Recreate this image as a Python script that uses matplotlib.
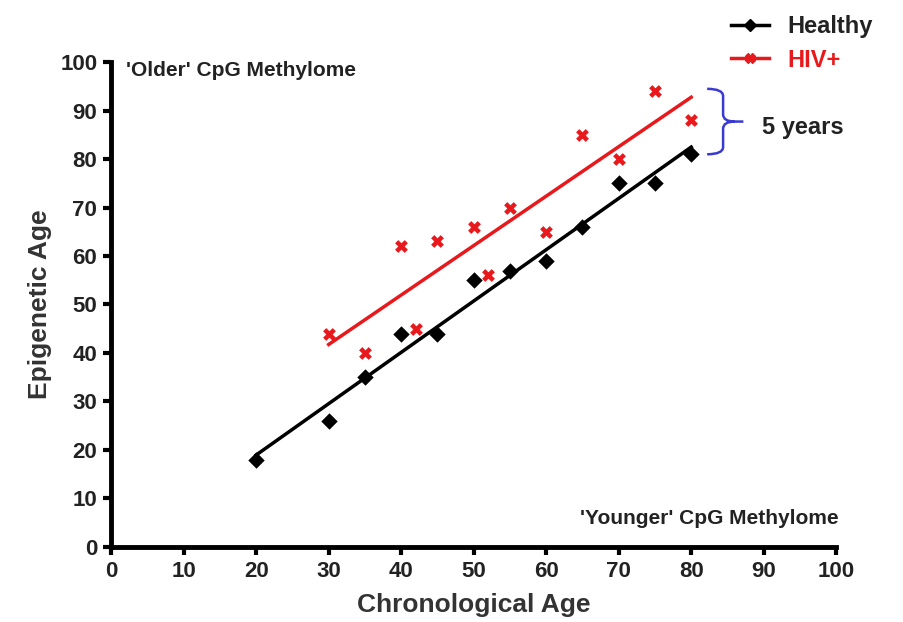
import numpy as np
import matplotlib
matplotlib.use("Agg")
import matplotlib.pyplot as plt
from matplotlib.path import Path
from matplotlib.patches import PathPatch
from matplotlib.lines import Line2D

plt.rcParams['font.family'] = ['Liberation Sans', 'DejaVu Sans']
plt.rcParams['font.weight'] = 'bold'

# data
healthy_x = [20, 30, 35, 40, 45, 50, 55, 60, 65, 70, 75, 80]
healthy_y = [18, 26, 35, 44, 44, 55, 57, 59, 66, 75, 75, 81]
hiv_x = [30, 35, 40, 42, 45, 50, 52, 55, 60, 65, 70, 75, 80]
hiv_y = [44, 40, 62, 45, 63, 66, 56, 70, 65, 85, 80, 94, 88]
ticks = [0, 10, 20, 30, 40, 50, 60, 70, 80, 90, 100]

red = '#e8191c'
blue = '#3a3ad0'
dark = '#222222'

fig = plt.figure(figsize=(9.04, 6.22), dpi=100)
ax = fig.add_axes([0.123, 0.121, 0.802, 0.779])

# fitted lines
for xs, ys, c in [(healthy_x, healthy_y, 'black'), (hiv_x, hiv_y, red)]:
    k, b = np.polyfit(xs, ys, 1)
    lx = np.array([min(xs), max(xs)])
    ax.plot(lx, k * lx + b, color=c, lw=2.5, zorder=2)

ax.scatter(healthy_x, healthy_y, marker='D', s=70, color='black', zorder=3, linewidths=0)
ax.scatter(hiv_x, hiv_y, marker='X', s=85, color=red, zorder=3, linewidths=0)

ax.set_xlim(0, 100)
ax.set_ylim(0, 100)
ax.set_xticks(ticks)
ax.set_yticks(ticks)
ax.tick_params(labelsize=16, width=3, length=6, direction='out', pad=4)
for lab in ax.get_xticklabels() + ax.get_yticklabels():
    lab.set_fontweight('bold')
    lab.set_color(dark)
ax.spines['top'].set_visible(False)
ax.spines['right'].set_visible(False)
for s in ['left', 'bottom']:
    ax.spines[s].set_linewidth(3.5)

ax.set_xlabel('Chronological Age', fontsize=19, fontweight='bold', color='#333333', labelpad=8)
ax.set_ylabel('Epigenetic Age', fontsize=19, fontweight='bold', color='#333333', labelpad=6)

ax.text(2, 98.3, "'Older' CpG Methylome", fontsize=15, fontweight='bold',
        color=dark, va='center', ha='left')
ax.text(100.3, 5.8, "'Younger' CpG Methylome", fontsize=15, fontweight='bold',
        color=dark, va='center', ha='right')

# blue brace for the 5 year gap
x0, y_top, y_bot = 82.2, 94.5, 81.0
ym = (y_top + y_bot) / 2
verts = [(x0, y_top), (x0 + 2.2, y_top), (x0 + 2.2, y_top - 1.5), (x0 + 2.2, ym + 1.5),
         (x0 + 2.2, ym), (x0 + 3.8, ym), (x0 + 5.0, ym),
         (x0 + 3.8, ym), (x0 + 2.2, ym), (x0 + 2.2, ym - 1.5),
         (x0 + 2.2, y_bot + 1.5), (x0 + 2.2, y_bot), (x0, y_bot)]
codes = [Path.MOVETO, Path.CURVE3, Path.CURVE3, Path.LINETO,
         Path.CURVE3, Path.CURVE3, Path.LINETO,
         Path.MOVETO, Path.CURVE3, Path.CURVE3,
         Path.LINETO, Path.CURVE3, Path.CURVE3]
ax.add_patch(PathPatch(Path(verts, codes), fill=False, edgecolor=blue, lw=1.8, clip_on=False))
ax.text(89.8, ym - 1.2, '5 years', fontsize=17, fontweight='bold', color=dark,
        va='center', ha='left', clip_on=False)

handles = [Line2D([], [], color='black', lw=2.5, marker='D', markersize=6),
           Line2D([], [], color=red, lw=2.5, marker='X', markersize=7)]
leg = fig.legend(handles, ['Healthy', 'HIV+'], loc='upper left', bbox_to_anchor=(0.785, 1.01),
                 frameon=False, handlelength=1.6, labelspacing=0.45,
                 handletextpad=0.8, prop={'weight': 'bold', 'size': 17})
leg.get_texts()[0].set_color(dark)
leg.get_texts()[1].set_color(red)

fig.savefig('out.png', dpi=100)
